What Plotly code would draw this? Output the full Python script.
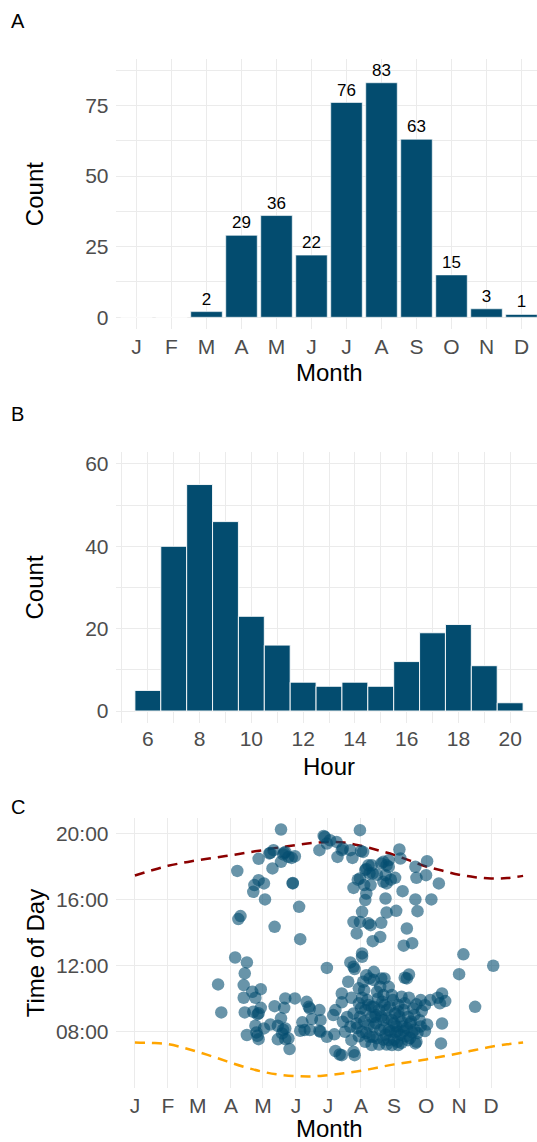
import plotly.graph_objects as go

FONT = "Liberation Sans, Arial, Helvetica, sans-serif"
BAR = "#034C6F"
GRID = "#EBEBEB"
TICK = "#4D4D4D"
W, H = 537, 1142

# ---------------- data ----------------
month_labels = ["J", "F", "M", "A", "M", "J", "J", "A", "S", "O", "N", "D"]
month_counts = [0, 0, 2, 29, 36, 22, 76, 83, 63, 15, 3, 1]

hour_bins = [6, 7, 8, 9, 10, 11, 12, 13, 14, 15, 16, 17, 18, 19, 20]
hour_counts = [5, 40, 55, 46, 23, 16, 7, 6, 7, 6, 12, 19, 21, 11, 2]

# day of year (0 = 1 Jan) of each month start, used as tick positions in panel C
month_start_day = [0, 31, 59, 90, 120, 151, 181, 212, 243, 273, 304, 334]

curve_day = [0, 15, 31, 45, 59, 75, 90, 105, 120, 135, 151, 166, 181, 196, 212,
             227, 243, 258, 273, 288, 304, 319, 334, 349, 364]
sunrise_hour = [7.33, 7.30, 7.23, 7.02, 6.76, 6.43, 6.10, 5.80, 5.55, 5.38, 5.29, 5.27,
                5.35, 5.46, 5.61, 5.80, 6.00, 6.15, 6.30, 6.48, 6.67, 6.87, 7.07, 7.22, 7.33]
sunset_hour = [17.45, 17.75, 18.04, 18.22, 18.38, 18.53, 18.68, 18.84, 18.99, 19.15,
               19.29, 19.42, 19.49, 19.45, 19.25, 19.00, 18.70, 18.35, 18.00, 17.75,
               17.50, 17.35, 17.27, 17.30, 17.43]

# observations: day of year and time of day (decimal hours)
obs_day = [
    137, 96, 116, 127, 130, 140, 147, 150, 137, 129,
    116, 112, 121, 111, 122, 148, 148, 154, 99, 97,
    131, 155, 139, 144, 141, 126,
    173, 178, 180, 177, 183, 189, 195, 190, 202, 204,
    212, 211, 216, 220, 211, 205, 215, 217, 216, 213,
    205, 211, 219, 208, 223, 213, 219, 214, 209, 194, 217,
    248, 249, 274, 263, 273, 264, 285, 222, 223, 231,
    238, 238, 235, 244, 233, 236, 221, 251, 235, 263,
    278, 265, 236, 245, 255, 231, 221, 230, 252, 260,
    233, 236, 227, 240,
    94, 105, 103, 102, 78, 81, 102, 110, 118, 113,
    103, 111, 118, 115, 131, 140, 141, 113, 121, 127,
    134, 137, 105, 116, 114, 134, 141, 145, 138, 116,
    150, 157, 159, 161, 164, 173, 166, 174, 164, 174,
    180, 155, 139, 115, 141, 144, 163, 173,
    180, 202, 213, 205, 206, 200, 217, 224, 214, 210,
    194, 203, 213, 194, 188, 186, 205, 216, 222, 187,
    195, 202, 197, 208, 213, 219, 203, 216, 223, 188,
    194, 205, 206, 211, 222, 199, 192, 210, 215, 218,
    212, 208, 217,
    220, 253, 257, 255, 224, 231, 234, 230, 238, 233,
    241, 250, 257, 288, 291, 284, 286, 277, 272, 264,
    269, 261, 224, 236, 244, 252, 256, 225, 233, 241,
    250, 258, 267, 274, 272, 288, 224, 230, 238, 244,
    252, 260, 227, 238, 246, 264, 263, 256, 241, 247,
    287, 220, 222, 226, 228, 227, 232, 239, 242, 247,
    248, 245, 235, 229, 233,
    226, 231, 234, 237, 240, 243, 246, 249, 251, 254,
    255, 259, 262, 265, 268, 236, 243, 250, 258, 229,
    234, 247, 253, 262, 268, 215, 210, 219,
    304, 308, 336, 319,
]
obs_hour = [
    20.24, 17.73, 18.46, 18.82, 18.99, 18.82, 18.52, 18.62, 18.28, 17.88,
    17.17, 16.87, 16.97, 16.46, 16.00, 16.97, 17.00, 15.55, 14.99, 14.81,
    14.34, 13.59, 18.73, 18.58, 18.88, 18.79,
    18.99, 19.79, 19.39, 19.85, 19.59, 19.49, 19.09, 18.58, 18.99, 18.52,
    18.93, 20.20, 17.78, 17.58, 17.27, 16.70, 16.87, 16.36, 15.96, 15.25,
    14.64, 14.64, 14.55, 13.94, 13.47, 12.73, 18.08, 18.88, 17.20, 18.99, 17.85,
    19.03, 18.48, 18.32, 17.98, 17.47, 17.31, 16.97, 18.08, 17.58, 18.18,
    18.38, 17.98, 17.47, 17.31, 17.07, 16.97, 16.87, 16.50, 16.06, 16.00,
    16.00, 15.29, 15.21, 15.31, 14.24, 14.58, 14.44, 13.73, 13.20, 13.35,
    18.28, 18.08, 17.50, 17.20,
    12.48, 12.18, 11.52, 10.81, 10.85, 9.15, 10.04, 10.40, 10.56, 10.04,
    9.15, 9.19, 9.43, 9.03, 9.53, 9.43, 10.00, 8.34, 8.18, 8.42,
    8.34, 8.79, 7.78, 7.53, 7.94, 7.52, 7.53, 6.93, 7.88, 9.10,
    10.00, 8.55, 8.08, 9.79, 9.39, 9.29, 8.75, 8.68, 8.08, 7.98,
    7.67, 8.04, 8.10, 7.73, 8.18, 7.58, 9.49, 8.04,
    11.85, 12.18, 12.52, 11.92, 11.78, 11.01, 11.41, 11.11, 11.01, 10.61,
    10.30, 10.04, 10.04, 9.76, 9.29, 8.99, 9.09, 9.29, 9.49, 7.82,
    8.58, 8.28, 7.98, 8.48, 7.98, 8.38, 7.47, 7.37, 7.67, 6.81,
    6.56, 6.76, 6.56, 8.88, 8.88, 8.88, 6.60, 9.70, 10.50, 9.90,
    9.40, 8.20, 7.90,
    11.21, 11.25, 11.45, 11.21, 11.61, 11.21, 11.21, 10.70, 10.70, 10.20,
    10.20, 10.10, 10.04, 10.30, 9.84, 10.04, 9.70, 9.90, 9.59, 9.64,
    9.23, 9.39, 9.49, 9.29, 9.09, 9.29, 8.88, 8.88, 8.68, 8.68,
    8.58, 8.48, 8.68, 8.42, 8.02, 8.48, 8.28, 8.08, 8.08, 7.94,
    8.02, 7.94, 7.58, 7.47, 7.37, 7.37, 7.27, 7.47, 7.17, 7.17,
    7.27, 7.67, 7.17, 9.00, 10.00, 10.40, 9.80, 9.50, 9.90, 9.60,
    8.90, 8.30, 7.80, 7.20, 7.50,
    8.50, 8.90, 8.20, 8.80, 8.00, 8.50, 8.00, 7.80, 8.30, 7.70,
    8.20, 8.60, 8.10, 7.90, 8.30, 7.20, 7.50, 7.30, 7.60, 9.30,
    9.60, 9.20, 9.70, 9.00, 9.90, 8.60, 7.70, 9.60,
    11.47, 12.67, 11.98, 9.49,
]

time_ticks = [8, 12, 16, 20]
time_labels = ["08:00", "12:00", "16:00", "20:00"]

# ---------------- layout geometry (pixels) ----------------
PLOT_L = 115.5
panels = {"A": (59.3, 329.0), "B": (451.6, 723.35), "C": (818.3, 1088.3)}


def ydom(top, bottom):
    return [1 - bottom / H, 1 - top / H]


xdom = [PLOT_L / W, 1.0]

fig = go.Figure()

# Panel A bars
month_pos = list(range(1, len(month_labels) + 1))
fig.add_trace(go.Bar(
    x=month_pos, y=month_counts, width=0.9,
    marker=dict(color=BAR, line=dict(color="white", width=0.6)),
    text=[str(c) if c > 0 else "" for c in month_counts],
    textposition="outside", textfont=dict(family=FONT, size=17, color="black"),
    cliponaxis=False, xaxis="x", yaxis="y", hoverinfo="skip"))

# Panel B histogram bars
fig.add_trace(go.Bar(
    x=hour_bins, y=hour_counts, width=1.0,
    marker=dict(color=BAR, line=dict(color="white", width=0.9)),
    xaxis="x2", yaxis="y2", hoverinfo="skip"))

# Panel C: sunrise / sunset curves and observations
fig.add_trace(go.Scatter(
    x=curve_day, y=sunset_hour, mode="lines",
    line=dict(color="#8B0000", width=2.5, dash="10px,7px", shape="spline"),
    xaxis="x3", yaxis="y3", hoverinfo="skip"))
fig.add_trace(go.Scatter(
    x=curve_day, y=sunrise_hour, mode="lines",
    line=dict(color="#FFA500", width=2.5, dash="10px,7px", shape="spline"),
    xaxis="x3", yaxis="y3", hoverinfo="skip"))
fig.add_trace(go.Scatter(
    x=obs_day, y=obs_hour, mode="markers",
    marker=dict(color=BAR, size=12.5, opacity=0.6, line=dict(width=0)),
    xaxis="x3", yaxis="y3", hoverinfo="skip"))

tickfont = dict(family=FONT, size=21, color=TICK)


def ax(**kw):
    d = dict(showgrid=True, gridcolor=GRID, gridwidth=1.1, zeroline=False,
             showline=False, ticks="", tickfont=tickfont, automargin=False,
             fixedrange=True, tickmode="array")
    d.update(kw)
    return d


minor_style = dict(showgrid=True, gridcolor=GRID, gridwidth=0.6, ticks="")

layout = dict(
    width=W, height=H, margin=dict(l=0, r=0, t=0, b=0),
    paper_bgcolor="white", plot_bgcolor="white", showlegend=False,
    font=dict(family=FONT),
    xaxis=ax(domain=xdom, anchor="y", range=[0.4, 0.4 + (W - PLOT_L) / 35.0],
             tickvals=month_pos, ticktext=month_labels, ticklabelstandoff=3),
    yaxis=ax(domain=ydom(*panels["A"]), anchor="x", range=[-4.15, 91.3],
             tickvals=[0, 25, 50, 75], ticklabelstandoff=6,
             minor=dict(tickvals=[12.5, 37.5, 62.5, 87.5], **minor_style)),
    xaxis2=ax(domain=xdom, anchor="y2", range=[4.75, 4.75 + (W - PLOT_L) / (427 / 16.5)],
              tickvals=hour_bins[::2], ticklabelstandoff=1,
              minor=dict(tickvals=[5, 7, 9, 11, 13, 15, 17, 19, 21], **minor_style)),
    yaxis2=ax(domain=ydom(*panels["B"]), anchor="x2", range=[-3, 63],
              tickvals=[0, 20, 40, 60], ticklabelstandoff=6,
              minor=dict(tickvals=[10, 30, 50], **minor_style)),
    xaxis3=ax(domain=xdom, anchor="y3", range=[-18.2, -18.2 + (W - PLOT_L) / (427 / 400.4)],
              tickvals=month_start_day, ticktext=month_labels, ticklabelstandoff=3),
    yaxis3=ax(domain=ydom(*panels["C"]), anchor="x3", range=[4.55, 20.92],
              tickvals=time_ticks, ticktext=time_labels, ticklabelstandoff=6),
)


def ann(text, px, py, size, color="black", angle=0, xanchor="center"):
    return dict(text=text, x=px / W, y=1 - py / H, xref="paper", yref="paper",
                showarrow=False, font=dict(family=FONT, size=size, color=color),
                textangle=angle, xanchor=xanchor, yanchor="middle")


PLOT_CX = (PLOT_L + 542.5) / 2
layout["annotations"] = [
    ann("A", 9, 21, 20, xanchor="left"),
    ann("B", 9, 414, 20, xanchor="left"),
    ann("C", 9, 807, 20, xanchor="left"),
    ann("Count", 34, sum(panels["A"]) / 2, 24, angle=-90),
    ann("Month", PLOT_CX, 373, 24),
    ann("Count", 34, sum(panels["B"]) / 2, 24, angle=-90),
    ann("Hour", PLOT_CX, 766, 24),
    ann("Time of Day", 35, sum(panels["C"]) / 2, 24, angle=-90),
    ann("Month", PLOT_CX, 1128, 24),
]

fig.update_layout(**layout)
fig.write_html("out.html")
